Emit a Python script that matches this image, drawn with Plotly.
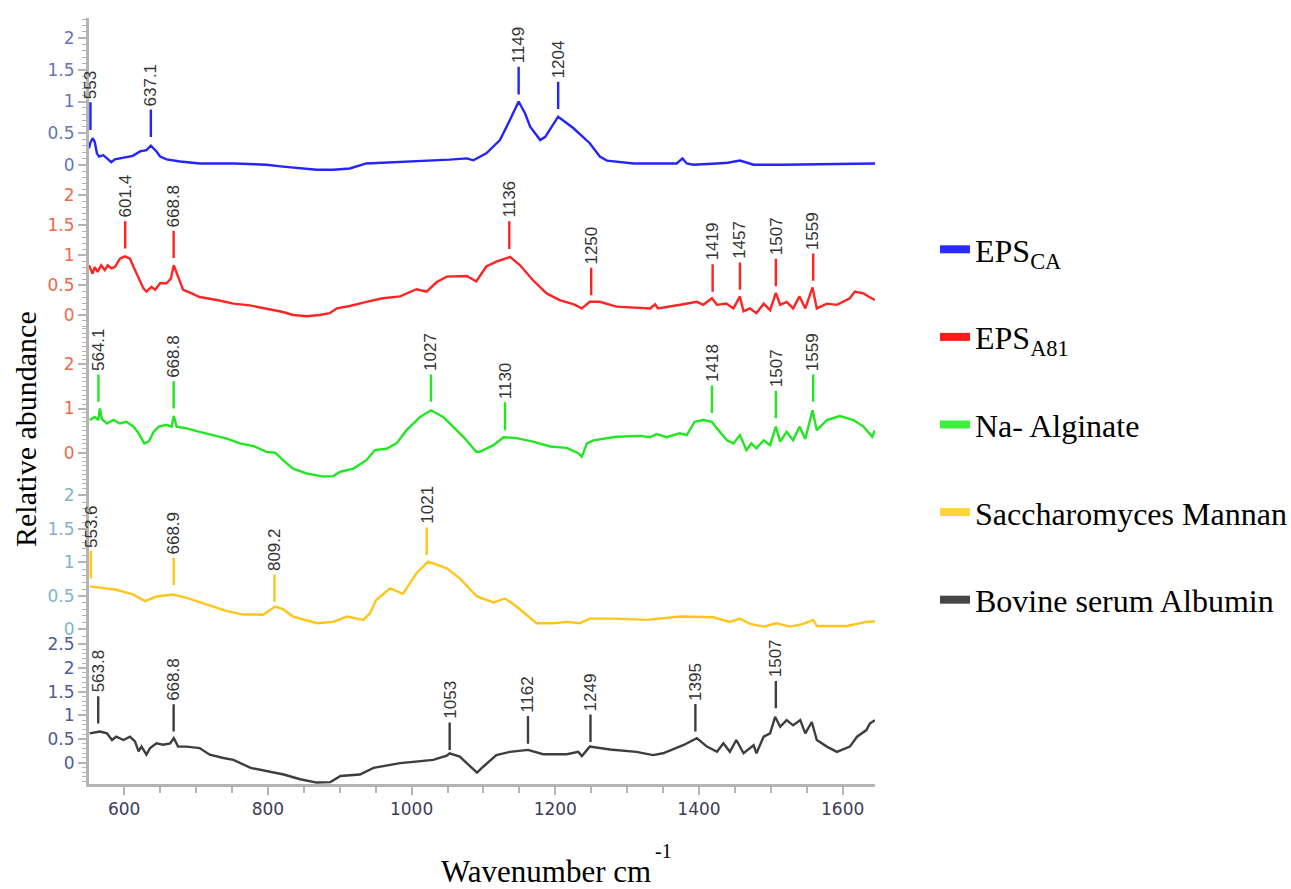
import plotly.graph_objects as go

# ---------------- data ----------------
blue_wn = [551, 553, 556, 559, 562, 565, 571, 576, 582, 587, 594, 603, 612, 622, 631, 637, 645, 650, 659, 678,
           705, 752, 798, 821, 845, 868, 891, 914, 937, 960, 984, 1007, 1030, 1053, 1077, 1086, 1104, 1123, 1137, 1149,
           1158, 1165, 1179, 1186, 1204, 1225, 1248, 1262, 1272, 1285, 1309, 1369, 1377, 1383, 1392, 1425, 1440, 1457,
           1466, 1476, 1517, 1564, 1592, 1645]
blue_ab = [0.26, 0.35, 0.42, 0.36, 0.18, 0.13, 0.15, 0.10, 0.04, 0.085, 0.10, 0.12, 0.14, 0.21, 0.23, 0.30, 0.21, 0.13,
           0.085, 0.05, 0.02, 0.02, 0.0, -0.03, -0.05, -0.08, -0.08, -0.06, 0.02, 0.03, 0.05, 0.06, 0.07, 0.08, 0.10,
           0.07, 0.18, 0.39, 0.71, 1.0, 0.81, 0.60, 0.39, 0.44, 0.76, 0.58, 0.34, 0.13, 0.065, 0.05, 0.02, 0.02, 0.10,
           0.02, 0.0, 0.02, 0.03, 0.065, 0.03, 0.0, 0.0, 0.01, 0.01, 0.02]

red_wn = [551, 556, 559, 563, 568, 573, 577, 582, 587, 590, 594, 601, 608, 613, 620, 627, 631, 638, 643, 650,
          659, 665, 669, 675, 682, 694, 705, 729, 752, 775, 798, 821, 835, 854, 872, 886, 896, 914, 937, 960,
          984, 1007, 1021, 1035, 1049, 1077, 1090, 1104, 1118, 1137, 1151, 1169, 1188, 1206, 1225, 1237, 1248, 1262,
          1285, 1332, 1339, 1343, 1378, 1397, 1406, 1418, 1425, 1438, 1448, 1457, 1462, 1471, 1480, 1490, 1499, 1507,
          1513, 1522, 1531, 1540, 1548, 1558, 1564, 1578, 1592, 1610, 1617, 1629, 1636, 1645]
red_ab = [0.83, 0.69, 0.80, 0.72, 0.83, 0.75, 0.83, 0.78, 0.80, 0.86, 0.94, 0.98, 0.94, 0.80, 0.61, 0.44, 0.39, 0.47,
          0.42, 0.53, 0.53, 0.61, 0.83, 0.64, 0.42, 0.36, 0.30, 0.25, 0.19, 0.16, 0.11, 0.05, 0.0, -0.02, 0.0, 0.03,
          0.11, 0.15, 0.22, 0.28, 0.31, 0.43, 0.39, 0.55, 0.64, 0.65, 0.56, 0.81, 0.89, 0.97, 0.83, 0.58, 0.36, 0.25,
          0.18, 0.11, 0.22, 0.22, 0.14, 0.11, 0.18, 0.11, 0.18, 0.22, 0.17, 0.28, 0.17, 0.19, 0.11, 0.31, 0.06, 0.11,
          0.03, 0.19, 0.08, 0.37, 0.17, 0.22, 0.11, 0.31, 0.11, 0.46, 0.11, 0.19, 0.17, 0.28, 0.39, 0.36, 0.31, 0.25]

green_wn = [552, 559, 564, 566, 569, 576, 585, 594, 603, 613, 620, 628, 634, 641, 648, 659, 666, 669, 673, 687,
            705, 724, 743, 761, 780, 798, 810, 821, 835, 854, 877, 891, 901, 919, 937, 949, 965, 979, 993, 1012,
            1027, 1044, 1053, 1072, 1090, 1095, 1114, 1128, 1146, 1169, 1193, 1216, 1232, 1237, 1244, 1253, 1285,
            1318, 1332, 1341, 1355, 1373, 1383, 1394, 1406, 1418, 1425, 1439, 1448, 1457, 1466, 1473, 1480, 1490,
            1499, 1507, 1513, 1522, 1531, 1540, 1548, 1558, 1564, 1578, 1596, 1615, 1629, 1641, 1645]
green_ab = [0.74, 0.81, 0.74, 1.0, 0.76, 0.66, 0.74, 0.66, 0.70, 0.59, 0.44, 0.21, 0.25, 0.47, 0.59, 0.63, 0.59, 0.83,
            0.59, 0.55, 0.47, 0.40, 0.32, 0.21, 0.15, 0.02, 0.0, -0.17, -0.36, -0.47, -0.54, -0.53, -0.43, -0.36,
            -0.17, 0.06, 0.09, 0.21, 0.51, 0.81, 0.96, 0.81, 0.66, 0.36, 0.02, 0.02, 0.17, 0.35, 0.33, 0.25, 0.14,
            0.11, -0.01, -0.09, 0.21, 0.28, 0.36, 0.38, 0.35, 0.42, 0.35, 0.44, 0.40, 0.70, 0.74, 0.70, 0.55, 0.28,
            0.21, 0.40, 0.06, 0.21, 0.10, 0.28, 0.17, 0.59, 0.25, 0.47, 0.28, 0.59, 0.31, 0.96, 0.51, 0.74, 0.83,
            0.74, 0.59, 0.36, 0.51]

yellow_wn = [552, 589, 612, 629, 645, 668, 687, 715, 743, 766, 794, 810, 821, 835, 868, 891, 910, 933, 942, 951,
             970, 988, 1007, 1023, 1049, 1067, 1091, 1114, 1130, 1146, 1174, 1197, 1216, 1234, 1248, 1281, 1327, 1374,
             1420, 1443, 1457, 1471, 1490, 1508, 1527, 1545, 1559, 1564, 1606, 1633, 1645]
yellow_ab = [0.64, 0.59, 0.52, 0.42, 0.49, 0.52, 0.47, 0.37, 0.27, 0.22, 0.22, 0.34, 0.30, 0.19, 0.09, 0.11, 0.19,
             0.14, 0.24, 0.44, 0.61, 0.53, 0.84, 1.01, 0.91, 0.76, 0.49, 0.40, 0.46, 0.34, 0.09, 0.09, 0.11, 0.09,
             0.16, 0.16, 0.14, 0.19, 0.18, 0.11, 0.16, 0.08, 0.04, 0.09, 0.04, 0.08, 0.14, 0.05, 0.05, 0.11, 0.12]

gray_wn = [552, 566, 576, 583, 589, 599, 608, 615, 620, 624, 631, 636, 645, 654, 664, 669, 675, 687, 705, 719,
           738, 752, 776, 799, 822, 845, 868, 887, 901, 928, 947, 984, 1007, 1030, 1049, 1053, 1067, 1081, 1091, 1100,
           1118, 1137, 1162, 1183, 1216, 1232, 1237, 1248, 1276, 1313, 1336, 1350, 1378, 1397, 1411, 1425, 1434, 1443,
           1452, 1462, 1476, 1480, 1490, 1499, 1506, 1513, 1522, 1531, 1541, 1548, 1557, 1564, 1578, 1592, 1610,
           1620, 1633, 1638, 1645]
gray_ab = [0.62, 0.66, 0.62, 0.48, 0.55, 0.48, 0.55, 0.45, 0.24, 0.34, 0.17, 0.31, 0.41, 0.38, 0.41, 0.52, 0.34, 0.34,
           0.31, 0.17, 0.10, 0.06, -0.11, -0.18, -0.25, -0.35, -0.42, -0.41, -0.28, -0.25, -0.11, -0.01, 0.03, 0.06,
           0.15, 0.20, 0.13, -0.08, -0.21, -0.08, 0.16, 0.23, 0.27, 0.18, 0.18, 0.23, 0.14, 0.34, 0.28, 0.23, 0.16,
           0.20, 0.37, 0.52, 0.34, 0.23, 0.41, 0.23, 0.48, 0.20, 0.37, 0.20, 0.55, 0.62, 0.97, 0.76, 0.90, 0.79,
           0.90, 0.62, 0.86, 0.48, 0.34, 0.23, 0.34, 0.55, 0.69, 0.83, 0.90]

# peak labels: text and abundance where the marker line ends
blue_peaks = ["553", "637.1", "1149", "1204"]
blue_peak_tip = [0.55, 0.44, 1.11, 0.88]
red_peaks = ["601.4", "668.8", "1136", "1250", "1419", "1457", "1507", "1559"]
red_peak_tip = [1.11, 0.95, 1.10, 0.33, 0.39, 0.42, 0.48, 0.57]
green_peaks = ["564.1", "668.8", "1027", "1130", "1418", "1507", "1559"]
green_peak_tip = [1.15, 1.0, 1.15, 0.51, 0.90, 0.78, 1.15]
yellow_peaks = ["553.6", "668.9", "809.2", "1021"]
yellow_peak_tip = [0.76, 0.66, 0.41, 1.11]
gray_peaks = ["563.8", "668.8", "1053", "1162", "1249", "1395", "1507"]
gray_peak_tip = [0.83, 0.66, 0.27, 0.40, 0.44, 0.66, 1.15]

series_names = ["EPS<sub>CA</sub>", "EPS<sub>A81</sub>", "Na- Alginate", "Saccharomyces Mannan", "Bovine serum Albumin"]

blue_ticks = [0, 0.5, 1, 1.5, 2]
red_ticks = [0, 0.5, 1, 1.5, 2]
green_ticks = [0, 1, 2]
yellow_ticks = [0, 0.5, 1, 1.5, 2]
gray_ticks = [0, 0.5, 1, 1.5, 2, 2.5]
x_ticks = [600, 800, 1000, 1200, 1400, 1600]

# ---------------- layout geometry ----------------
W, H = 1291, 889
L, R, T, B = 89, 416, 18, 105
PW = W - L - R
PH = H - T - B
y_bottom_px = H - B

# panel: (axis name, zero pixel, px per unit, band top px, band bottom px)
panels = [
    dict(ax="y5", zero=164.7, ppu=63.2, top=18, bot=176),   # blue
    dict(ax="y4", zero=315.0, ppu=59.9, top=176, bot=328),  # red
    dict(ax="y3", zero=452.7, ppu=44.2, top=328, bot=484),  # green
    dict(ax="y2", zero=629.3, ppu=67.0, top=484, bot=640),  # yellow
    dict(ax="y", zero=762.7, ppu=47.3, top=640, bot=784),   # gray
]

line_colors = ["#2424ff", "#ff2424", "#22e622", "#ffc51a", "#3e3e3e"]
legend_colors = ["#2b2bff", "#ff1a1a", "#3cf03c", "#ffd53a", "#474747"]
tick_colors = ["#6673bb", "#f0684a", "#f0684a", "#7fb2cf", "#4f5b93"]
xs = [blue_wn, red_wn, green_wn, yellow_wn, gray_wn]
ys = [blue_ab, red_ab, green_ab, yellow_ab, gray_ab]
tickv = [blue_ticks, red_ticks, green_ticks, yellow_ticks, gray_ticks]
peaks = [blue_peaks, red_peaks, green_peaks, yellow_peaks, gray_peaks]
tips = [blue_peak_tip, red_peak_tip, green_peak_tip, yellow_peak_tip, gray_peak_tip]

for a, b in zip(xs, ys):
    assert len(a) == len(b)

LABEL_SIZE = 17
LINE_LEN = 28
PAD = 3


def text_len(s):
    return sum((0.278 if c == "." else 0.556) for c in s) * LABEL_SIZE


fig = go.Figure()
axis_gray = "#b4b4b4"

layout_axes = {}
annotations = []
for i, p in enumerate(panels):
    fig.add_trace(go.Scatter(x=xs[i], y=ys[i], mode="lines", yaxis=p["ax"], xaxis="x",
                             line=dict(color=line_colors[i], width=2.4), showlegend=False,
                             hoverinfo="skip"))
    rng = [(p["zero"] - p["bot"]) / p["ppu"], (p["zero"] - p["top"]) / p["ppu"]]
    dom = [(y_bottom_px - p["bot"]) / PH, (y_bottom_px - p["top"]) / PH]
    key = "yaxis" if p["ax"] == "y" else "yaxis" + p["ax"][1:]
    layout_axes[key] = dict(
        domain=dom, range=rng, anchor="x",
        tickmode="array", tickvals=tickv[i], ticktext=[("%g" % v) for v in tickv[i]],
        tickfont=dict(family="DejaVu Sans", size=17, color=tick_colors[i]),
        showline=True, linecolor=axis_gray, linewidth=3,
        ticks="outside", ticklen=8, tickwidth=2, tickcolor=axis_gray,
        minor=dict(tickmode="linear", tick0=0, dtick=0.1, ticks="outside", ticklen=4,
                   tickwidth=1, tickcolor=axis_gray),
        showgrid=False, zeroline=False, fixedrange=True,
    )
    yref = p["ax"]
    for txt, tip in zip(peaks[i], tips[i]):
        annotations.append(dict(
            x=float(txt), y=tip, xref="x", yref=yref, text=txt, textangle=-90,
            showarrow=True, arrowhead=0, arrowwidth=2.4, arrowcolor=line_colors[i],
            ax=0, ay=-(LINE_LEN + PAD + text_len(txt) / 2), standoff=0, borderpad=PAD,
            xanchor="center", yanchor="middle",
            font=dict(family="Liberation Sans", size=LABEL_SIZE, color="#333333"),
        ))

# legend entries
for i, name in enumerate(series_names):
    fig.add_trace(go.Scatter(x=[None], y=[None], mode="lines", name=name,
                             line=dict(color=legend_colors[i], width=8),
                             legendgroup="g%d" % i, showlegend=True))

annotations += [
    dict(text="Relative abundance", xref="paper", yref="paper", x=(26 - L) / PW,
         y=(y_bottom_px - 429) / PH, textangle=-90, showarrow=False,
         xanchor="center", yanchor="middle",
         font=dict(family="Liberation Serif", size=30, color="black")),
    dict(text="Wavenumber cm", xref="paper", yref="paper", x=(546 - L) / PW,
         y=(y_bottom_px - 871) / PH, showarrow=False, xanchor="center", yanchor="middle",
         font=dict(family="Liberation Serif", size=31, color="black")),
    dict(text="-1", xref="paper", yref="paper", x=(663 - L) / PW,
         y=(y_bottom_px - 851) / PH, showarrow=False, xanchor="center", yanchor="middle",
         font=dict(family="Liberation Serif", size=20, color="black")),
]

fig.update_layout(
    width=W, height=H,
    margin=dict(l=L, r=R, t=T, b=B),
    paper_bgcolor="white", plot_bgcolor="white",
    xaxis=dict(range=[551, 1645], domain=[0, 1], anchor="y",
               tickmode="array", tickvals=x_ticks, ticktext=[str(v) for v in x_ticks],
               tickfont=dict(family="DejaVu Sans", size=17, color="#3c3c5a"),
               showline=True, linecolor=axis_gray, linewidth=3,
               ticks="outside", ticklen=8, tickwidth=2, tickcolor=axis_gray,
               minor=dict(tickmode="linear", tick0=550, dtick=50, ticks="outside", ticklen=6,
                          tickwidth=2, tickcolor=axis_gray),
               showgrid=False, zeroline=False, fixedrange=True),
    annotations=annotations,
    showlegend=True,
    legend=dict(xref="container", yref="container", x=935 / W, y=1 - 222 / H,
                xanchor="left", yanchor="top", tracegroupgap=43,
                font=dict(family="Liberation Serif", size=32, color="black"),
                bgcolor="rgba(0,0,0,0)"),
    **layout_axes,
)

fig.write_html("out.html")
